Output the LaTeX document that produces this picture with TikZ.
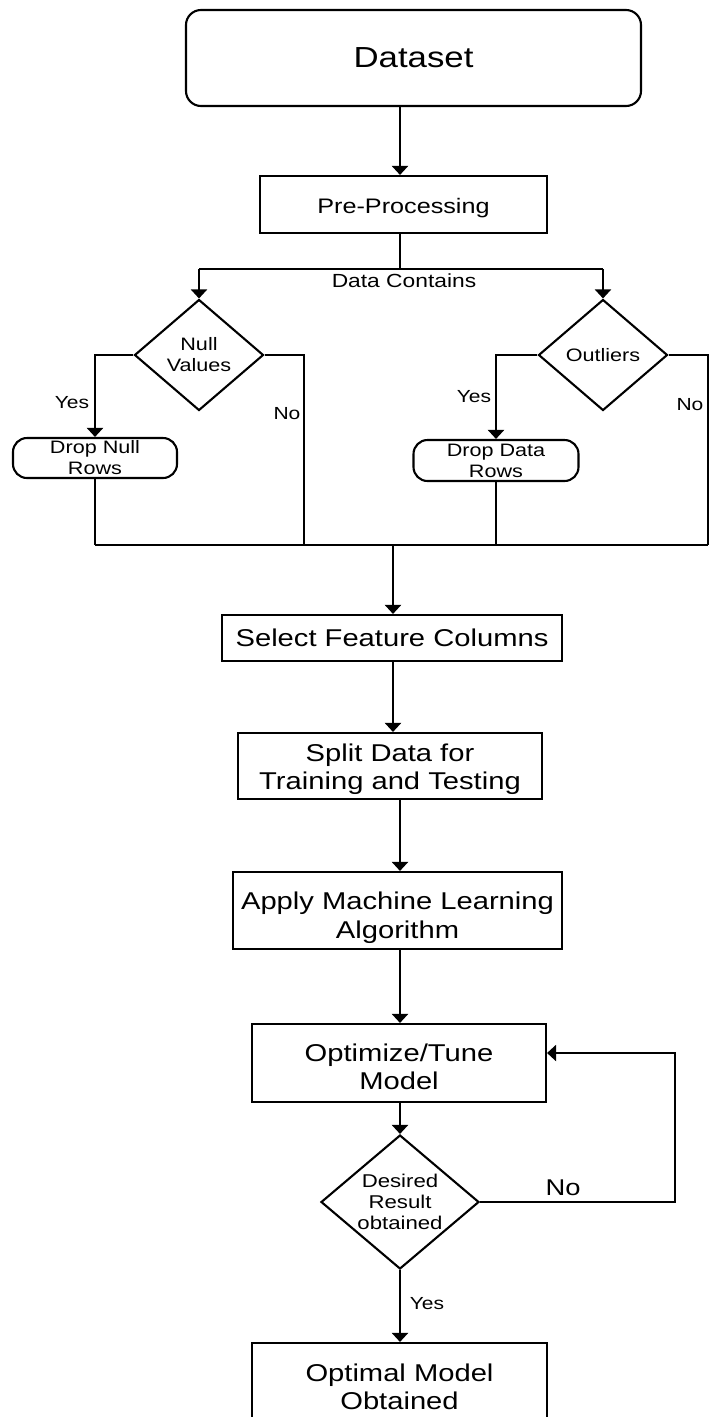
\documentclass[tikz,border=0pt]{standalone}
\usepackage{fontspec}
\setmainfont{Liberation Sans}[FakeStretch=1.2]
\usetikzlibrary{shapes.geometric,arrows.meta}
\begin{document}
\begin{tikzpicture}[x=1pt,y=-1pt,
  ln/.style={line width=2.1pt},
  arr/.style={ln,-{Triangle[width=16pt,length=9pt]}},
  rect/.style={draw,ln,inner sep=0pt,align=center},
  rrect/.style={rect,rounded corners=14pt},
  dec/.style={draw,ln,diamond,inner sep=-5pt,align=center},
  txt/.style={inner sep=0pt,align=center},
  fbig/.style={font=\fontsize{24.3}{28.5}\selectfont},
  fsmall/.style={font=\fontsize{18}{21}\selectfont},
  flab/.style={font=\fontsize{17.5}{21}\selectfont},
]
\fill[white] (0,0) rectangle (713,1417);
\useasboundingbox (0,0) rectangle (713,1417);

% top
\node[rect, rounded corners=15pt, minimum width=455pt, minimum height=96pt,
      font=\fontsize{29}{34}\selectfont] (ds) at (413.5,58) {Dataset};
\node[rect, minimum width=287pt, minimum height=57pt] (pre) at (403.5,204.5) {};
\node[txt, font=\fontsize{21}{25}\selectfont] (pret) at ([yshift=-4pt]pre.center) {Pre-Processing};
\coordinate (spine) at (400,269);
\coordinate (bl) at (199,269);
\coordinate (br) at (603,269);
\draw[arr] (ds.south -| spine) -- (pre.north -| spine);
\draw[ln] (pre.south -| spine) -- (spine);
\draw[ln] (bl) -- (br);
\node[font=\fontsize{19}{22}\selectfont] (dc) at (404,281) {Data Contains};

% decisions
\node[dec, minimum width=129pt, minimum height=111pt, fsmall] (nv) at (199,355) {Null\\Values};
\node[dec, minimum width=129pt, minimum height=111pt, fsmall] (ol) at (603,355) {Outliers};
\draw[arr] (bl) -- (nv.north);
\draw[arr] (br) -- (ol.north);

\node[rrect, minimum width=164pt, minimum height=40pt, fsmall] (dn) at (95,458) {Drop Null\\Rows};
\node[rrect, minimum width=165pt, minimum height=41pt, fsmall] (dd) at (496,460.5) {Drop Data\\Rows};

\coordinate (busL) at (95,545);
\coordinate (busN) at (304,545);
\coordinate (busR) at (708,545);
\coordinate (busM) at (393,545);

\draw[arr] (nv.west) -| (dn.north);
\draw[ln] (nv.east) -| (busN);
\draw[arr] (ol.west) -| (dd.north);
\draw[ln] (ol.east) -| (busR);
\draw[ln] (dn.south) -- (busL);
\draw[ln] (dd.south) -- (dd.south |- busL);
\draw[ln] (busL) -- (busR);

\node[flab] (y1) at (72,403) {Yes};
\node[flab] (n1) at (287,414) {No};
\node[flab] (y2) at (474,397) {Yes};
\node[flab] (n2) at (690,405) {No};

% main chain
\node[rect, minimum width=340pt, minimum height=46pt, fbig] (sel) at (392,638) {Select Feature Columns};
\node[rect, minimum width=304pt, minimum height=66pt] (sp) at (390,766) {};
\node[txt, fbig] (spt) at ([yshift=-3pt]sp.center) {Split Data for\\Training and Testing};
\node[rect, minimum width=329pt, minimum height=77pt] (ap) at (397.5,910.5) {};
\node[txt, fbig] (apt) at ([yshift=-7pt]ap.center) {Apply Machine Learning\\Algorithm};
\node[rect, minimum width=294pt, minimum height=78pt] (op) at (399,1063) {};
\node[txt, fbig] (opt) at ([yshift=-4pt]op.center) {Optimize/Tune\\Model};
\node[dec, aspect=1.18, minimum width=158pt, minimum height=134pt,
      font=\fontsize{18.5}{21}\selectfont] (dr) at (400,1202) {Desired\\Result\\obtained};
\node[rect, minimum width=295pt, minimum height=82pt] (om) at (399.5,1384) {};
\node[txt, fbig] (omt) at ([yshift=-3pt]om.center) {Optimal Model\\Obtained};

\draw[arr] (busM) -- (busM |- sel.north);
\draw[arr] (sel.south -| busM) -- (busM |- sp.north);
\coordinate (mid) at (400,850);
\draw[arr] (sp.south -| mid) -- (ap.north -| mid);
\draw[arr] (ap.south -| mid) -- (op.north -| mid);
\draw[arr] (op.south -| mid) -- (dr.north);
\draw[arr] (dr.south) -- (om.north -| dr.south);

\coordinate (fb) at (675,1053);
\draw[arr] (dr.east) -| (fb) -- (op.east |- fb);

\node[font=\fontsize{22.8}{26}\selectfont] (n3) at (563,1188) {No};
\node[flab] (y3) at (427,1304) {Yes};
\end{tikzpicture}
\end{document}
